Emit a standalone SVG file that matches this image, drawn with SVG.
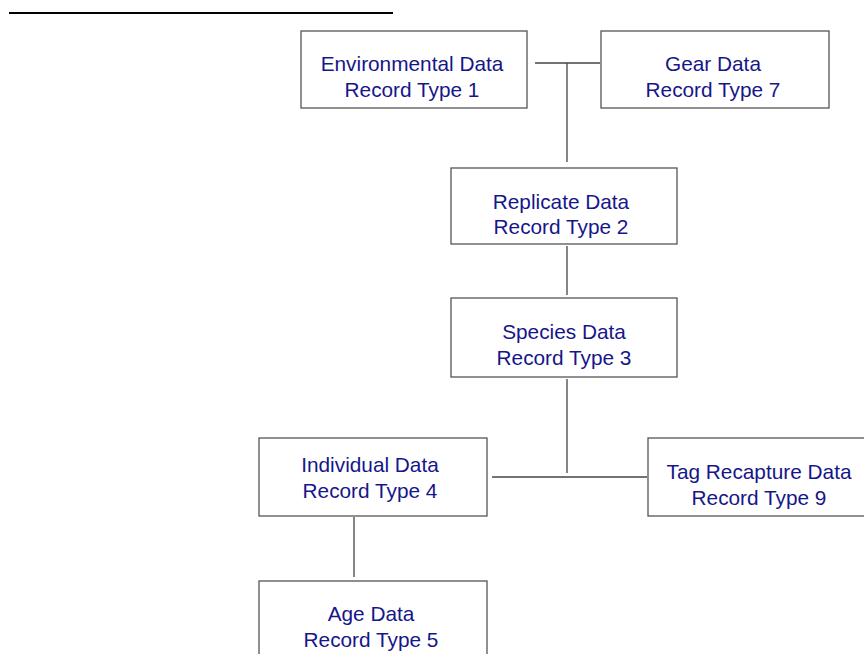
<svg xmlns="http://www.w3.org/2000/svg" width="864" height="654" viewBox="0 0 864 654">
<style>
.box{fill:#fff;stroke:#555;stroke-width:1.3}
.t{font-family:"Liberation Sans",Arial,sans-serif;font-size:20.8px;fill:#16168a;text-anchor:middle}
.c{stroke:#444;stroke-width:1.3;fill:none}
</style>
<rect width="864" height="654" fill="#fff"/>
<line x1="9" y1="13" x2="393" y2="13" stroke="#000" stroke-width="2"/>
<g id="connectors">
<line class="c" x1="535" y1="63" x2="600" y2="63"/>
<line class="c" x1="567" y1="63" x2="567" y2="162"/>
<line class="c" x1="567" y1="246" x2="567" y2="295"/>
<line class="c" x1="567" y1="379" x2="567" y2="473"/>
<line class="c" x1="492" y1="477" x2="647" y2="477"/>
<line class="c" x1="354" y1="517" x2="354" y2="577"/>
</g>
<g id="env"><rect class="box" x="301" y="31" width="226" height="77"/><text class="t" x="412" y="71">Environmental Data</text><text class="t" x="412" y="97">Record Type 1</text></g>
<g id="gear"><rect class="box" x="601" y="31" width="228" height="77"/><text class="t" x="713" y="71">Gear Data</text><text class="t" x="713" y="97">Record Type 7</text></g>
<g id="replicate"><rect class="box" x="451" y="168" width="226" height="76"/><text class="t" x="561" y="209">Replicate Data</text><text class="t" x="561" y="234">Record Type 2</text></g>
<g id="species"><rect class="box" x="451" y="298" width="226" height="79"/><text class="t" x="564" y="339">Species Data</text><text class="t" x="564" y="365">Record Type 3</text></g>
<g id="individual"><rect class="box" x="259" y="438" width="228" height="78"/><text class="t" x="370" y="472">Individual Data</text><text class="t" x="370" y="498">Record Type 4</text></g>
<g id="tag"><rect class="box" x="648" y="438" width="228" height="78"/><text class="t" x="759" y="479">Tag Recapture Data</text><text class="t" x="759" y="505">Record Type 9</text></g>
<g id="age"><rect class="box" x="259" y="581" width="228" height="90"/><text class="t" x="371" y="621">Age Data</text><text class="t" x="371" y="647">Record Type 5</text></g>
</svg>
